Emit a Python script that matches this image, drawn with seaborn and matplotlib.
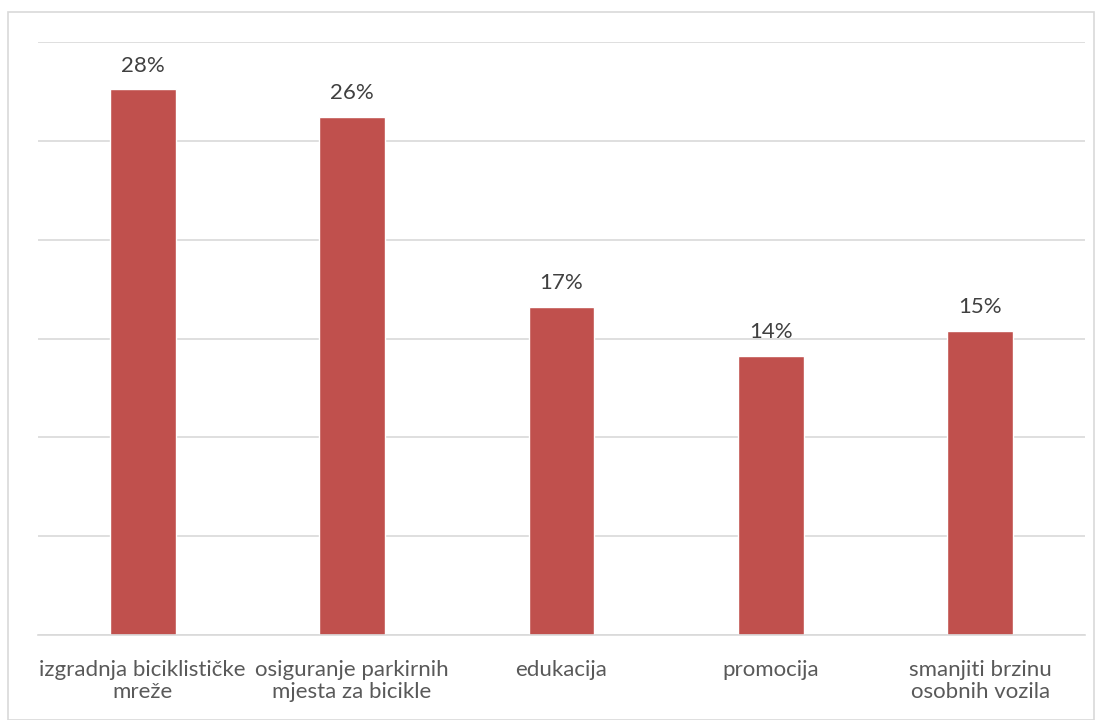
import matplotlib
matplotlib.use("Agg")
import matplotlib.pyplot as plt
import seaborn as sns
import pandas as pd
from matplotlib.patches import Rectangle

categories = ["izgradnja biciklističke\nmreže", "osiguranje parkirnih\nmjesta za bicikle",
              "edukacija", "promocija", "smanjiti brzinu\nosobnih vozila"]
values = [27.6, 26.2, 16.6, 14.1, 15.4]
labels = ["28%", "26%", "17%", "14%", "15%"]

sns.set_theme(style="white")
plt.rcParams['font.family'] = ['Lato', 'DejaVu Sans']

df = pd.DataFrame({"cat": categories, "val": values})

fig = plt.figure(figsize=(11.02, 7.2), dpi=100)
ax = fig.add_axes([38/1102, 85/720, (1085-38)/1102, (635-42)/720])
sns.barplot(data=df, x="cat", y="val", color="#C0504D", width=0.315, ax=ax, saturation=1)

ax.set_ylim(0, 30)
ax.set_yticks([0, 5, 10, 15, 20, 25, 30])
ax.yaxis.grid(True, color="#D9D9D9", linewidth=1.2)
ax.set_axisbelow(True)
ax.tick_params(axis='y', left=False, labelleft=False)
ax.tick_params(axis='x', bottom=False, pad=12, labelsize=16, labelcolor="#595959")
for t in ax.get_xticklabels():
    t.set_multialignment('center')
    t.set_linespacing(1.15)
for s in ["top", "left", "right"]:
    ax.spines[s].set_visible(False)
ax.spines["bottom"].set_color("#D9D9D9")
ax.spines["bottom"].set_linewidth(1.2)
ax.set_xlabel("")
ax.set_ylabel("")
ax.set_xlim(-0.5, 4.5)

ax.bar_label(ax.containers[0], labels=labels, padding=10, fontsize=16, color="#404040")

fig.patches.append(Rectangle((8/1102, 0), (1094-8)/1102, (708)/720, transform=fig.transFigure,
                             fill=False, edgecolor="#D9D9D9", linewidth=1.2))

fig.savefig("out.png", dpi=100, facecolor="white")
